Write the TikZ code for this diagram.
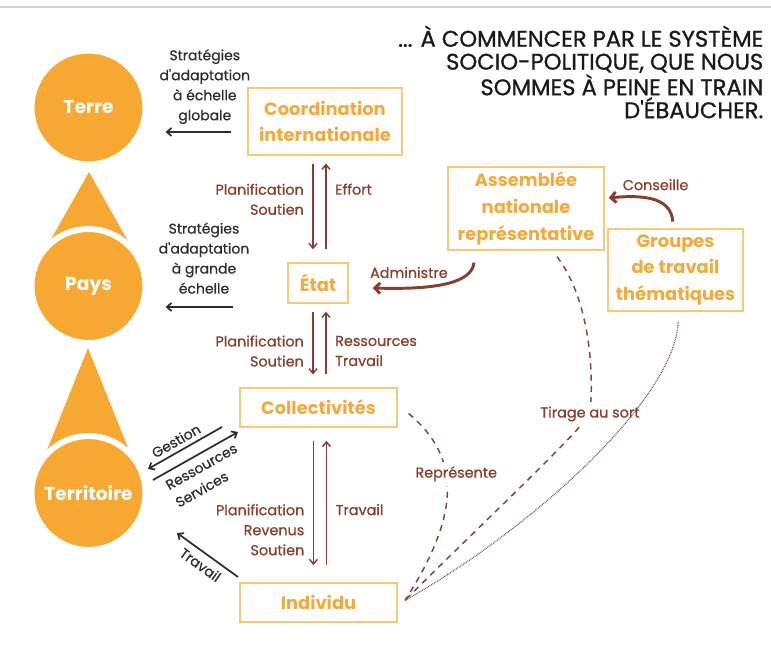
\documentclass[tikz,border=0pt]{standalone}
\usepackage{fontspec}
\setmainfont{Poppins}
\newfontfamily\tagfont{Poppins}[FakeBold=0.6]
\newfontfamily\handfont{Poppins}[FakeBold=0.9]
\usetikzlibrary{positioning,arrows.meta}

\definecolor{sunorange}{RGB}{247,168,51}
\definecolor{boxline}{RGB}{246,200,120}
\definecolor{boxtext}{RGB}{242,170,60}
\definecolor{rust}{RGB}{135,62,44}
\definecolor{inkgray}{RGB}{45,45,45}
\definecolor{dashbrown}{RGB}{120,72,60}

\begin{document}
\begin{tikzpicture}[x=0.75pt, y=-0.75pt, >={Straight Barb[length=3.5pt,width=6pt]},
  level/.style={circle, fill=sunorange, draw=white, line width=4.5pt, minimum size=85.5pt, inner sep=0pt, text=white, font=\fontsize{14}{16}\selectfont\bfseries},
  block/.style={rectangle, draw=boxline, line width=1.1pt, text=boxtext, inner sep=2pt, align=center, font=\fontsize{13.4}{20}\selectfont\bfseries},
  motto/.style={text=black!90, align=right, font=\handfont\fontsize{17}{17.2}\selectfont},
  lbl/.style={text=rust, font=\tagfont\fontsize{10.8}{15}\selectfont},
  note/.style={text=inkgray, font=\tagfont\fontsize{10.5}{15}\selectfont},
  fall/.style={->, draw=rust, line width=1.1pt, shorten <=6pt, shorten >=9.75pt},
  rise/.style={->, draw=rust, line width=1.1pt, shorten <=9.75pt, shorten >=6pt},
  push/.style={->, draw=inkgray, line width=1.3pt},
  swing/.style={-{Straight Barb[length=4pt,width=8pt]}, draw=rust, line width=2.2pt},
  lot/.style={draw=dashbrown, line width=1.1pt, dash pattern=on 4.5pt off 4pt},
  hint/.style={draw=dashbrown, line width=0.9pt, dash pattern=on 0.6pt off 0.7pt}]

  \useasboundingbox (0,0) rectangle (771,645);
  \draw[gray!35, line width=1.5pt] (0,7) -- (771,7);

  % scale levels
  \fill[sunorange] (89,172) -- (133,250) -- (45,250) -- cycle;
  \fill[sunorange] (88,348) -- (133,460) -- (43,460) -- cycle;
  \node[level] (terre) at (88.5,107.5) {Terre};
  \node[level] (pays) at (88.5,286) {Pays};
  \node[level] (terr) at (88.5,493) {Territoire};

  \node[motto, anchor=north east] (motto) at (768,21) {... À COMMENCER PAR LE SYSTÈME\\SOCIO-POLITIQUE, QUE NOUS\\SOMMES À PEINE EN TRAIN\\D'ÉBAUCHER.};

  % institutions
  \node[block, minimum width=115.5pt, minimum height=50pt] (coord) at (325,121.5) {Coordination\\internationale};
  \node[block, minimum width=45pt, minimum height=30pt] (etat) at (318,283) {État};
  \node[block, minimum width=118pt, minimum height=29pt] (coll) at (318.5,407.5) {Collectivités};
  \node[block, minimum width=118pt, minimum height=29pt] (indiv) at (318.5,602.5) {Individu};
  \node[block, minimum width=117pt, minimum height=62pt] (assem) at (526,208.5) {Assemblée\\nationale\\représentative};
  \node[block, minimum width=101pt, minimum height=61.5pt] (group) at (675.5,270) {Groupes\\de travail\\thématiques};

  % flows down the column
  \draw[fall, transform canvas={xshift=-3.75pt}] (coord.south -| etat) -- node[lbl, left=3pt, pos=0.41, align=right] {Planification\\Soutien} (etat.north);
  \draw[rise, transform canvas={xshift=6pt}] (etat.north) -- node[lbl, right=3pt, pos=0.685] {Effort} (coord.south -| etat);
  \draw[fall, transform canvas={xshift=-3.75pt}] (etat.south) -- node[lbl, left=3pt, pos=0.565, align=right] {Planification\\Soutien} (coll.north -| etat);
  \draw[rise, transform canvas={xshift=6pt}] (coll.north -| etat) -- node[lbl, right=3pt, pos=0.435, align=left] {Ressources\\Travail} (etat.south);
  \draw[fall, shorten <=10pt, shorten >=13pt, transform canvas={xshift=-3.75pt}] (coll.south) -- node[lbl, left=3pt, pos=0.66, align=right] {Planification\\Revenus\\Soutien} (indiv.north);
  \draw[rise, shorten <=13pt, shorten >=10pt, transform canvas={xshift=6pt}] (indiv.north) -- node[lbl, right=3pt, pos=0.47] {Travail} (coll.south);

  % strategies towards the levels
  \draw[push, shorten <=12pt, shorten >=12.75pt] (coord.west |- 0,132) -- node[note, above=2pt, pos=0.43, align=center] {Stratégies\\d'adaptation\\à échelle\\globale} (terre.east |- 0,132);
  \draw[push, shorten <=41pt, shorten >=12.75pt] (etat.west |- 0,307) -- node[note, above=6pt, pos=0.6, align=center] {Stratégies\\d'adaptation\\à grande\\échelle} (pays.east |- 0,307);

  \coordinate (gest-a) at (222,427);
  \coordinate (gest-b) at (148,469);
  \coordinate (res-a) at (153,480);
  \coordinate (res-b) at (238,432);
  \coordinate (trav-a) at (238,577);
  \coordinate (trav-b) at (177,533);
  \draw[push] (gest-a) -- node[note, sloped, above, pos=0.55] {Gestion} (gest-b);
  \draw[push] (res-a) -- node[note, sloped, below=1.5pt, align=left] {Ressources\\Services} (res-b);
  \draw[push] (trav-a) -- node[note, sloped, below=1pt] {Travail} (trav-b);

  % assembly links
  \draw[swing] ([xshift=-39pt,yshift=-9pt]assem.south) .. controls (472,282) and (440,290) .. node[lbl, pos=0.8, above=3pt] {Administre} ([xshift=18pt,yshift=-3.75pt]etat.east);
  \draw[swing] ([xshift=-2pt,yshift=5pt]group.north) .. controls (671,200) and (650,194) .. node[lbl, pos=0.5, above=3pt] {Conseille} ([xshift=3pt,yshift=7.9pt]assem.east);

  \draw[lot] ([xshift=8pt,yshift=-4.5pt]coll.east) .. controls (462,458) and (460,515) .. node[lbl, fill=white, pos=0.4, xshift=7.5pt] {Représente} ([xshift=5.25pt,yshift=1.5pt]indiv.east);
  \draw[lot] ([xshift=23.25pt,yshift=-4.5pt]assem.south) .. controls (590,300) and (594,372) .. (590,414) node[lbl, fill=white] {Tirage au sort} .. controls (576,436) and (470,535) .. ([xshift=5.25pt,yshift=1.5pt]indiv.east);
  \draw[hint] ([xshift=2pt,yshift=-7.5pt]group.south) .. controls (675,400) and (530,530) .. ([xshift=5.25pt,yshift=1.5pt]indiv.east);
\end{tikzpicture}
\end{document}
